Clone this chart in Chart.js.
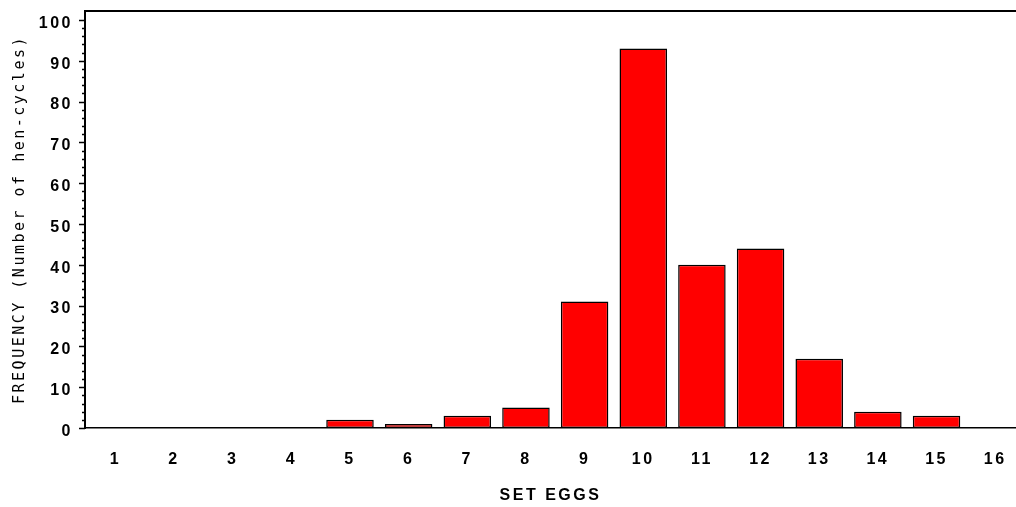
<!DOCTYPE html>
<html>
<head>
<meta charset="utf-8">
<script src="https://cdn.jsdelivr.net/npm/chart.js@4/dist/chart.umd.min.js"></script>
<style>
  html, body { margin: 0; padding: 0; background: #ffffff; }
  #wrap { width: 1016px; height: 507px; }
</style>
</head>
<body>
<div id="wrap"><canvas id="c" width="1016" height="507"></canvas></div>
<script>
// ---- data ----
const categories = [1, 2, 3, 4, 5, 6, 7, 8, 9, 10, 11, 12, 13, 14, 15, 16];
const frequency  = [0, 0, 0, 0, 2, 1, 3, 5, 31, 93, 40, 44, 17, 4, 3, 0];
const yTickValues = [0, 10, 20, 30, 40, 50, 60, 70, 80, 90, 100];
const yMinorStep = 2;
const xTitle = 'SET EGGS';
const yTitle = 'FREQUENCY (Number of hen-cycles)';

const points = categories.map((c, i) => ({ x: c, y: frequency[i] }));

const spacingPlugin = {
  id: 'spacing',
  beforeLayout(chart) { chart.ctx.letterSpacing = '2.5px'; },
  beforeDraw(chart) { chart.ctx.letterSpacing = '2.5px'; }
};

const framePlugin = {
  id: 'frame',
  afterDraw(chart) {
    const ctx = chart.ctx;
    const ys = chart.scales.y;
    const area = chart.chartArea;
    ctx.save();
    ctx.strokeStyle = '#000';
    ctx.lineWidth = 1.5;
    ctx.beginPath();
    for (let v = ys.min; v <= 100 + 1e-9; v += yMinorStep) {
      const py = Math.round(ys.getPixelForValue(v)) + 0.5;
      const len = (Math.round(v) % 10 === 0) ? 6 : 3;
      ctx.moveTo(area.left - len, py);
      ctx.lineTo(area.left, py);
    }
    ctx.stroke();
    ctx.lineWidth = 2;
    ctx.beginPath();
    ctx.moveTo(area.left - 1, area.top);
    ctx.lineTo(area.right, area.top);
    ctx.stroke();
    ctx.restore();
  }
};

new Chart(document.getElementById('c'), {
  type: 'bar',
  data: {
    datasets: [{
      data: points,
      backgroundColor: '#ff0000',
      borderColor: '#000000',
      borderWidth: 1.5,
      borderSkipped: false,
      categoryPercentage: 0.81,
      barPercentage: 1.0
    }]
  },
  plugins: [spacingPlugin, framePlugin],
  options: {
    responsive: false,
    animation: false,
    devicePixelRatio: 1,
    layout: { padding: { top: 11, left: 0, right: 0, bottom: 0 } },
    plugins: { legend: { display: false }, tooltip: { enabled: false } },
    scales: {
      x: {
        type: 'linear',
        offset: false,
        min: 0.482,
        max: 16.355,
        grid: { display: false, drawTicks: false },
        border: { display: true, color: '#000', width: 1.5 },
        afterBuildTicks(scale) { scale.ticks = categories.map(v => ({ value: v })); },
        afterFit(scale) {
          scale.height = 79;
          scale.paddingLeft = 0; scale.paddingRight = 0;
          scale.paddingTop = 0; scale.paddingBottom = 0;
        },
        ticks: {
          color: '#000',
          padding: 22,
          maxRotation: 0,
          autoSkip: false,
          font: { family: '"Liberation Sans", Arial, sans-serif', size: 16, weight: 'bold' }
        },
        title: {
          display: true,
          text: xTitle,
          color: '#000',
          padding: { top: 0, bottom: 2 },
          font: { family: '"Liberation Sans", Arial, sans-serif', size: 16, weight: 'bold' }
        }
      },
      y: {
        type: 'linear',
        min: 0,
        max: 102.2,
        grid: { display: false, drawTicks: false },
        border: { display: true, color: '#000', width: 2 },
        afterBuildTicks(scale) { scale.ticks = yTickValues.map(v => ({ value: v })); },
        afterFit(scale) {
          scale.width = 85;
          scale.paddingLeft = 0; scale.paddingRight = 0;
          scale.paddingTop = 0; scale.paddingBottom = 0;
        },
        ticks: {
          color: '#000',
          padding: 12,
          labelOffset: 3.5,
          font: { family: '"Liberation Sans", Arial, sans-serif', size: 16, weight: 'bold' }
        },
        title: {
          display: true,
          text: yTitle,
          color: '#000',
          padding: { top: 11, bottom: 0 },
          font: { family: '"DejaVu Sans Mono", monospace', size: 15, weight: 'normal' }
        }
      }
    }
  }
});
</script>
</body>
</html>
